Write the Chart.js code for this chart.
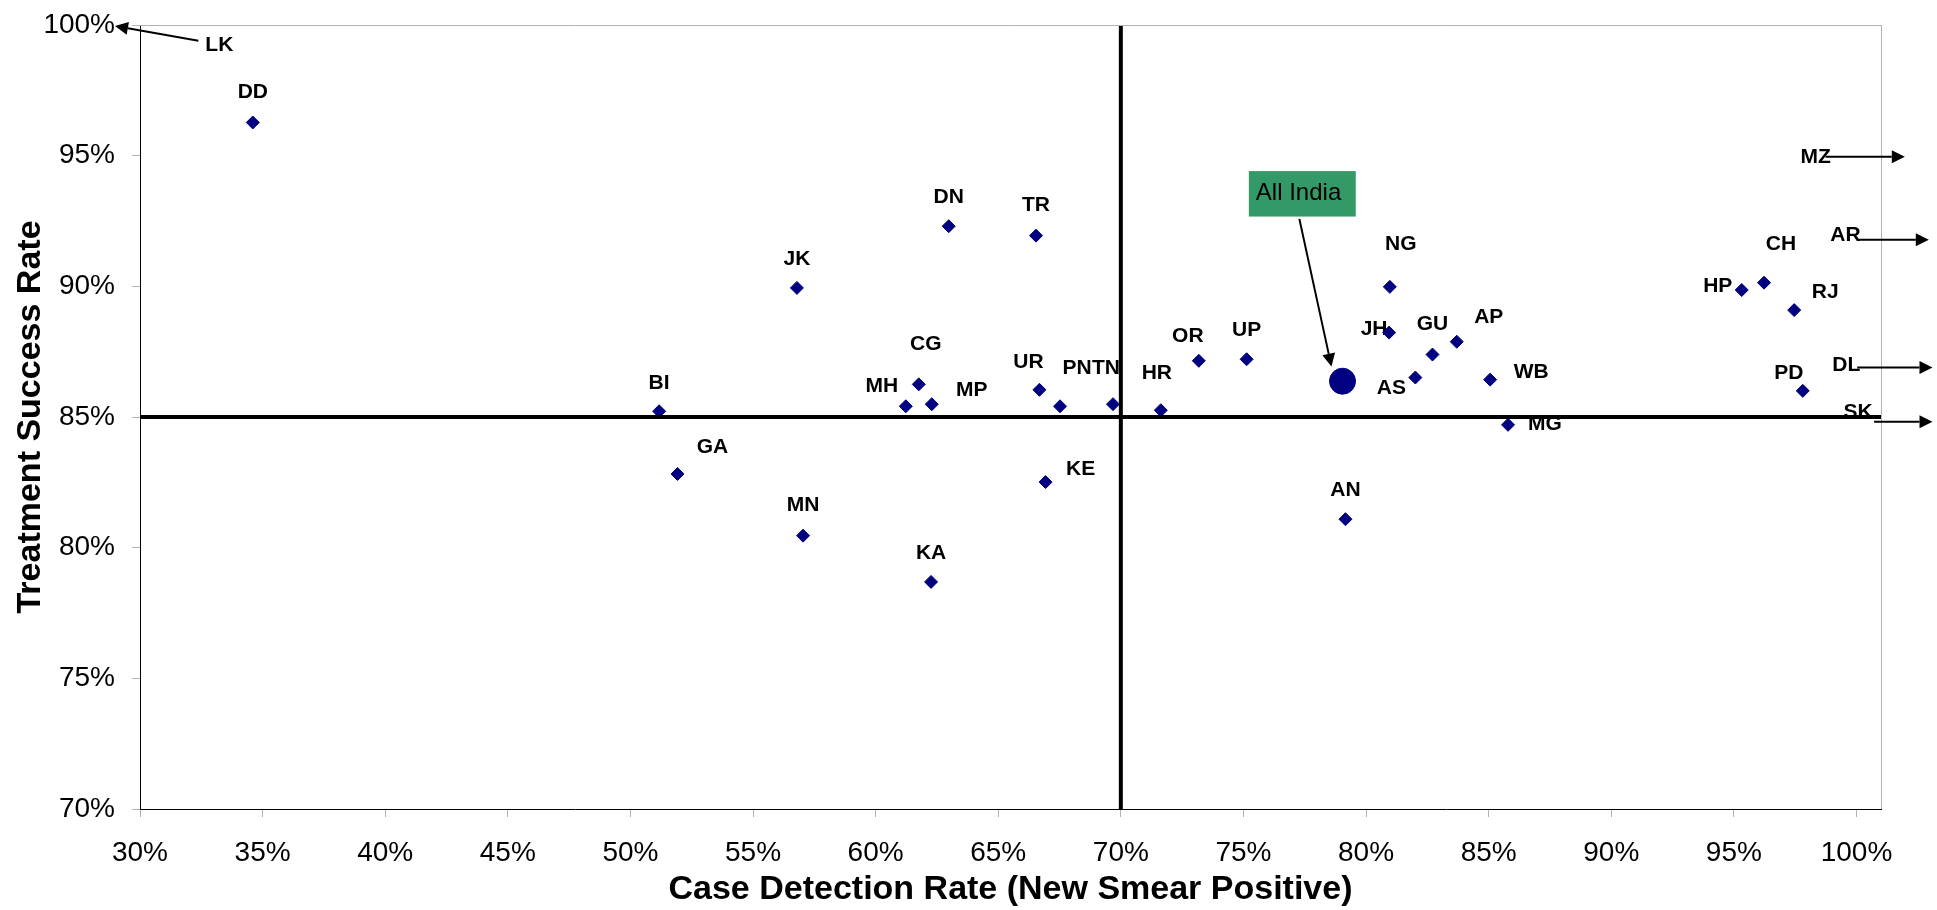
<!DOCTYPE html>
<html>
<head>
<meta charset="utf-8">
<title>Case Detection Rate vs Treatment Success Rate</title>
<script src="https://cdn.jsdelivr.net/npm/chart.js@4.4.0/dist/chart.umd.min.js"></script>
<style>
  html, body { margin: 0; padding: 0; background: #fff; }
  #wrap { width: 1937px; height: 910px; }
</style>
</head>
<body>
<div id="wrap"><canvas id="chart"></canvas></div>
<script>
// State codes with case detection rate (x, %) and treatment success rate (y, %)
const states = ['DD', 'DN', 'TR', 'JK', 'CG', 'MH', 'MP', 'UR', 'PN', 'TN',
  'HR', 'OR', 'UP', 'BI', 'GA', 'MN', 'KA', 'KE', 'AN', 'NG',
  'JH', 'GU', 'AP', 'AS', 'WB', 'MG', 'HP', 'CH', 'RJ', 'PD'];
const detectionRate = [34.6, 62.98, 66.54, 56.79, 61.76, 61.23, 62.29, 66.68, 67.52, 69.68,
  71.63, 73.18, 75.13, 51.17, 51.92, 57.04, 62.26, 66.93, 79.16, 80.97,
  80.94, 82.71, 83.70, 82.01, 85.06, 85.79, 95.32, 96.23, 97.46, 97.81];
const successRate = [96.27, 92.30, 91.94, 89.94, 86.25, 85.41, 85.49, 86.04, 85.41, 85.49,
  85.26, 87.15, 87.21, 85.22, 82.82, 80.46, 78.69, 82.51, 81.09, 89.98,
  88.23, 87.39, 87.88, 86.51, 86.43, 84.70, 89.86, 90.14, 89.09, 86.00];

// All India average
const indiaName = ['All India'];
const indiaDetection = [79.04];
const indiaSuccess = [86.37];

// Target lines
const targetDetection = 70;
const targetSuccess = 85;

// Axis ranges and ticks
const xMin = 30, xMax = 101;
const yMin = 70, yMax = 100;
const xTicks = [30, 35, 40, 45, 50, 55, 60, 65, 70, 75, 80, 85, 90, 95, 100];
const yTicks = [70, 75, 80, 85, 90, 95, 100];

// States that fall outside the plotted range: arrow from -> to (in axis units)
const offStates = ['LK', 'MZ', 'AR', 'DL', 'SK'];
const offFromX = [32.38, 98.74, 100.08, 100.03, 100.72];
const offFromY = [99.40, 94.96, 91.78, 86.89, 84.82];
const offToX = [28.98, 101.97, 102.95, 103.10, 103.10];
const offToY = [99.96, 94.96, 91.78, 86.89, 84.82];

// All India callout box [left, top, right, bottom] and arrow [x1, y1, x2, y2]
const calloutBox = [75.22, 94.41, 79.58, 92.67];
const calloutArrow = [77.28, 92.58, 78.59, 86.93];

// label offsets in px (label centre relative to the point)
const labelDx = [0, 0, 0, 0, 7, -24, 40, -11, 17, -7,
  -4, -11, 0, 0, 35, 0, 0, 35, 0, 11,
  -15, 0, 32, -24, 41, 37, -24, 17, 31, -14];
const labelDy = [-30, -29, -30, -29, -40, -20, -14, -28, -38, -36,
  -37, -25, -29, -28, -27, -30, -29, -13, -29, -43,
  -3, -30, -25, 11, -7, -1, -4, -38, -18, -18];
const offLabelDx = [21, -10, -13, -11, -16];
const offLabelDy = [5, 0, -5, -2, -10];

const FONT = '"Liberation Sans", Arial, sans-serif';
const NAVY = '#000080';

function drawArrow(ctx, x1, y1, x2, y2) {
  const ang = Math.atan2(y2 - y1, x2 - x1);
  const len = 13, half = 6.5;
  const bx = x2 - Math.cos(ang) * len, by = y2 - Math.sin(ang) * len;
  ctx.beginPath();
  ctx.moveTo(x1, y1);
  ctx.lineTo(bx, by);
  ctx.stroke();
  ctx.beginPath();
  ctx.moveTo(x2, y2);
  ctx.lineTo(bx + Math.sin(ang) * half, by - Math.cos(ang) * half);
  ctx.lineTo(bx - Math.sin(ang) * half, by + Math.cos(ang) * half);
  ctx.closePath();
  ctx.fill();
}

// state labels under the marks
const labelPlugin = {
  id: 'stateLabels',
  beforeDatasetsDraw(chart) {
    const { ctx, scales } = chart;
    ctx.save();
    ctx.font = 'bold 21px ' + FONT;
    ctx.fillStyle = '#000';
    ctx.textAlign = 'center';
    ctx.textBaseline = 'middle';
    states.forEach((s, i) => {
      const px = scales.x.getPixelForValue(detectionRate[i]);
      const py = scales.y.getPixelForValue(successRate[i]);
      ctx.fillText(s, px + labelDx[i], py + labelDy[i]);
    });
    ctx.restore();
  }
};

// plot border, off-range arrows, All India callout
const extrasPlugin = {
  id: 'extras',
  afterDraw(chart) {
    const { ctx, chartArea, scales } = chart;
    const sx = v => scales.x.getPixelForValue(v);
    const sy = v => scales.y.getPixelForValue(v);
    ctx.save();
    ctx.strokeStyle = '#b3b3b3';
    ctx.lineWidth = 1;
    ctx.beginPath();
    ctx.moveTo(chartArea.left, chartArea.top + 0.5);
    ctx.lineTo(chartArea.right + 0.5, chartArea.top + 0.5);
    ctx.lineTo(chartArea.right + 0.5, chartArea.bottom);
    ctx.stroke();

    ctx.strokeStyle = '#000';
    ctx.fillStyle = '#000';
    ctx.lineWidth = 2;
    ctx.font = 'bold 21px ' + FONT;
    ctx.textAlign = 'center';
    ctx.textBaseline = 'middle';
    offStates.forEach((s, i) => {
      const x1 = sx(offFromX[i]), y1 = sy(offFromY[i]);
      ctx.fillText(s, x1 + offLabelDx[i], y1 + offLabelDy[i]);
      drawArrow(ctx, x1, y1, sx(offToX[i]), sy(offToY[i]));
    });

    // callout
    const bl = sx(calloutBox[0]), bt = sy(calloutBox[1]);
    const br = sx(calloutBox[2]), bb = sy(calloutBox[3]);
    ctx.fillStyle = '#339966';
    ctx.fillRect(bl, bt, br - bl, bb - bt);
    ctx.fillStyle = '#000';
    ctx.font = '24px ' + FONT;
    ctx.textAlign = 'left';
    ctx.fillText(indiaName[0], bl + 7, (bt + bb) / 2);
    ctx.lineWidth = 2;
    drawArrow(ctx, sx(calloutArrow[0]), sy(calloutArrow[1]), sx(calloutArrow[2]), sy(calloutArrow[3]));
    ctx.restore();
  }
};

const tickFont = { family: FONT, size: 28 };
const titleFont = { family: FONT, size: 34, weight: 'bold' };

new Chart(document.getElementById('chart'), {
  type: 'scatter',
  data: {
    datasets: [
      {
        label: 'Treatment success target',
        data: [{ x: xMin, y: targetSuccess }, { x: xMax, y: targetSuccess }],
        showLine: true, borderColor: '#000', borderWidth: 4, pointRadius: 0
      },
      {
        label: 'Case detection target',
        data: [{ x: targetDetection, y: yMin }, { x: targetDetection, y: yMax }],
        showLine: true, borderColor: '#000', borderWidth: 4, pointRadius: 0
      },
      {
        label: 'All India',
        data: indiaDetection.map((d, i) => ({ x: d, y: indiaSuccess[i] })),
        pointRadius: 13, backgroundColor: NAVY, borderColor: NAVY
      },
      {
        label: 'States',
        data: states.map((s, i) => ({ x: detectionRate[i], y: successRate[i] })),
        pointStyle: 'rectRot', pointRadius: 6.5, borderWidth: 1,
        backgroundColor: NAVY, borderColor: NAVY
      }
    ]
  },
  options: {
    responsive: true,
    maintainAspectRatio: false,
    animation: false,
    events: [],
    layout: { autoPadding: false, padding: { top: 25, right: 56, left: 0, bottom: 0 } },
    plugins: {
      legend: { display: false },
      tooltip: { enabled: false }
    },
    scales: {
      x: {
        type: 'linear', min: xMin, max: xMax,
        afterBuildTicks: s => { s.ticks = xTicks.map(v => ({ value: v })); },
        afterFit: s => { s.height = 101; s.paddingLeft = 0; s.paddingRight = 0; },
        grid: { drawOnChartArea: false, drawTicks: true, tickLength: 8, color: '#b3b3b3' },
        border: { color: '#000', width: 1 },
        ticks: { callback: v => v + '%', color: '#000', font: tickFont, padding: 19, maxRotation: 0, autoSkip: false },
        title: { display: true, text: 'Case Detection Rate (New Smear Positive)', color: '#000', font: titleFont, padding: 0 }
      },
      y: {
        type: 'linear', min: yMin, max: yMax,
        afterBuildTicks: s => { s.ticks = yTicks.map(v => ({ value: v })); },
        afterFit: s => { s.width = 140; s.paddingTop = 0; s.paddingBottom = 0; },
        grid: { drawOnChartArea: false, drawTicks: true, tickLength: 8, color: '#b3b3b3' },
        border: { color: '#000', width: 1 },
        ticks: { callback: v => v + '%', color: '#000', font: tickFont, padding: 17, autoSkip: false },
        title: { display: true, text: 'Treatment Success Rate', color: '#000', font: titleFont, padding: { top: 10, bottom: 0 } }
      }
    }
  },
  plugins: [labelPlugin, extrasPlugin]
});
</script>
</body>
</html>
